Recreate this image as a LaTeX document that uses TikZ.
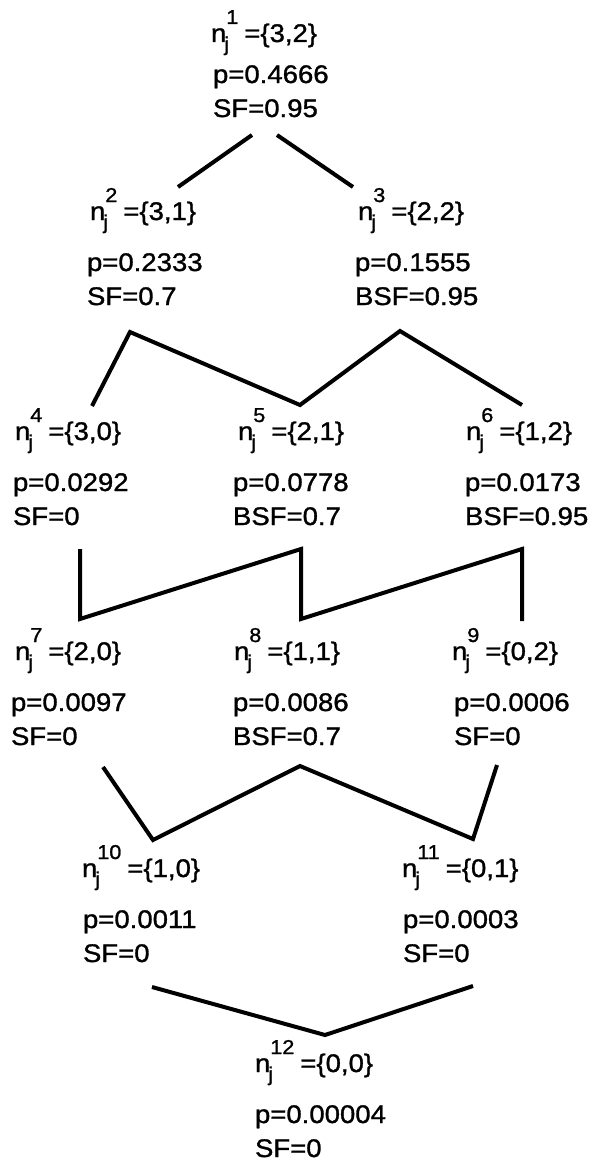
\documentclass[tikz,border=0pt]{standalone}
\usepackage{fontspec}
\setmainfont{Liberation Sans}[FakeStretch=1.08,FakeBold=1.2]
\newcommand{\supsize}{\fontsize{20}{20}\selectfont}
% state label: n with subscript j and a superscript index, then the set
\newcommand{\statelabel}[2]{n\rlap{\hspace{-2pt}\raisebox{-9pt}{\supsize j}}\raisebox{18pt}{\supsize #1}\hspace{6pt}=\{#2\}}
\begin{document}
\begin{tikzpicture}[x=1pt,y=-1pt,
  every node/.style={inner sep=0pt, outer sep=0pt, anchor=base west,
    font=\fontsize{25.5}{34}\selectfont},
  link/.style={line width=4pt, line join=miter}]
\useasboundingbox (0,0) rectangle (594,1164);

% level 1
\node (n1) at (211,42)  {\statelabel{1}{3,2}};
\node (p1) at (213,83)  {p=0.4666};
\node (s1) at (213,117) {SF=0.95};

% level 2
\node (n2) at (90,220)  {\statelabel{2}{3,1}};
\node (p2) at (87,271)  {p=0.2333};
\node (s2) at (87,305)  {SF=0.7};
\node (n3) at (358,220) {\statelabel{3}{2,2}};
\node (p3) at (355,271) {p=0.1555};
\node (s3) at (355,305) {BSF=0.95};

% level 3
\node (n4) at (15,440)  {\statelabel{4}{3,0}};
\node (p4) at (13,491)  {p=0.0292};
\node (s4) at (13,525)  {SF=0};
\node (n5) at (238,440) {\statelabel{5}{2,1}};
\node (p5) at (233,491) {p=0.0778};
\node (s5) at (233,525) {BSF=0.7};
\node (n6) at (466,440) {\statelabel{6}{1,2}};
\node (p6) at (465,491) {p=0.0173};
\node (s6) at (465,525) {BSF=0.95};

% level 4
\node (n7) at (15,660)  {\statelabel{7}{2,0}};
\node (p7) at (11,711)  {p=0.0097};
\node (s7) at (11,745)  {SF=0};
\node (n8) at (234,660) {\statelabel{8}{1,1}};
\node (p8) at (233,711) {p=0.0086};
\node (s8) at (233,745) {BSF=0.7};
\node (n9) at (452,660) {\statelabel{9}{0,2}};
\node (p9) at (454,711) {p=0.0006};
\node (s9) at (454,745) {SF=0};

% level 5
\node (n10) at (82,877)  {\statelabel{10}{1,0}};
\node (p10) at (83,928)  {p=0.0011};
\node (s10) at (83,962)  {SF=0};
\node (n11) at (402,877) {\statelabel{11}{0,1}};
\node (p11) at (403,928) {p=0.0003};
\node (s11) at (403,962) {SF=0};

% level 6
\node (n12) at (255,1072) {\statelabel{12}{0,0}};
\node (p12) at (255,1123) {p=0.00004};
\node (s12) at (255,1157) {SF=0};

% bend points of the connecting lines
\coordinate (a1) at (252,135); \coordinate (a2) at (178,187);
\coordinate (a3) at (277,135); \coordinate (a4) at (353,187);

\coordinate (b1) at (92,406);  \coordinate (b2) at (130,332);
\coordinate (b3) at (300,405); \coordinate (b4) at (400,331);
\coordinate (b5) at (522,405);

\coordinate (c1) at (80,549);  \coordinate (c2) at (80,619);
\coordinate (c3) at (301,549); \coordinate (c4) at (301,619);
\coordinate (c5) at (522,549); \coordinate (c6) at (522,621);

\coordinate (d1) at (103,767); \coordinate (d2) at (153,840);
\coordinate (d3) at (300,766); \coordinate (d4) at (473,839);
\coordinate (d5) at (497,765);

\coordinate (e1) at (152,987); \coordinate (e2) at (325,1035);
\coordinate (e3) at (473,986);

\draw[link] (a1) -- (a2);
\draw[link] (a3) -- (a4);
\draw[link] (b1) -- (b2) -- (b3) -- (b4) -- (b5);
\draw[link] (c1) -- (c2) -- (c3) -- (c4) -- (c5) -- (c6);
\draw[link] (d1) -- (d2) -- (d3) -- (d4) -- (d5);
\draw[link] (e1) -- (e2) -- (e3);
\end{tikzpicture}
\end{document}
